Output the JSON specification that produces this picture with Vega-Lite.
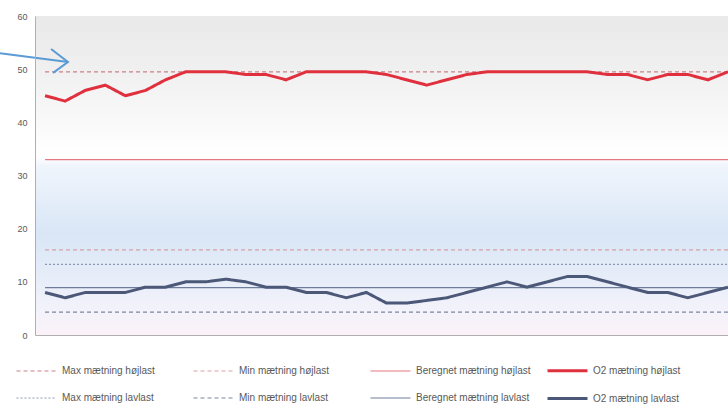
{
  "$schema": "https://vega.github.io/schema/vega-lite/v6.json",
  "width": 693,
  "height": 319,
  "padding": {"left": 35, "top": 16, "right": 0, "bottom": 77},
  "autosize": {"type": "none"},
  "background": "white",
  "config": {
    "view": {"stroke": null},
    "font": "Liberation Sans",
    "axis": {"grid": false, "ticks": false, "domainColor": "#b0b0b0", "labelColor": "#595959", "labelFontSize": 9}
  },
  "datasets": {
    "series_rows": [
      {"series": "Max mætning højlast", "i": 1, "v": 49.5}, {"series": "Max mætning højlast", "i": 35, "v": 49.5},
      {"series": "Min mætning højlast", "i": 1, "v": 16}, {"series": "Min mætning højlast", "i": 35, "v": 16},
      {"series": "Beregnet mætning højlast", "i": 1, "v": 33}, {"series": "Beregnet mætning højlast", "i": 35, "v": 33},
      {"series": "Max mætning lavlast", "i": 1, "v": 13.3}, {"series": "Max mætning lavlast", "i": 35, "v": 13.3},
      {"series": "Min mætning lavlast", "i": 1, "v": 4.3}, {"series": "Min mætning lavlast", "i": 35, "v": 4.3},
      {"series": "Beregnet mætning lavlast", "i": 1, "v": 8.9}, {"series": "Beregnet mætning lavlast", "i": 35, "v": 8.9},
      {"series": "O2 mætning højlast", "i": 1, "v": 45},
      {"series": "O2 mætning højlast", "i": 2, "v": 44},
      {"series": "O2 mætning højlast", "i": 3, "v": 46},
      {"series": "O2 mætning højlast", "i": 4, "v": 47},
      {"series": "O2 mætning højlast", "i": 5, "v": 45},
      {"series": "O2 mætning højlast", "i": 6, "v": 46},
      {"series": "O2 mætning højlast", "i": 7, "v": 48},
      {"series": "O2 mætning højlast", "i": 8, "v": 49.5},
      {"series": "O2 mætning højlast", "i": 9, "v": 49.5},
      {"series": "O2 mætning højlast", "i": 10, "v": 49.5},
      {"series": "O2 mætning højlast", "i": 11, "v": 49},
      {"series": "O2 mætning højlast", "i": 12, "v": 49},
      {"series": "O2 mætning højlast", "i": 13, "v": 48},
      {"series": "O2 mætning højlast", "i": 14, "v": 49.5},
      {"series": "O2 mætning højlast", "i": 15, "v": 49.5},
      {"series": "O2 mætning højlast", "i": 16, "v": 49.5},
      {"series": "O2 mætning højlast", "i": 17, "v": 49.5},
      {"series": "O2 mætning højlast", "i": 18, "v": 49},
      {"series": "O2 mætning højlast", "i": 19, "v": 48},
      {"series": "O2 mætning højlast", "i": 20, "v": 47},
      {"series": "O2 mætning højlast", "i": 21, "v": 48},
      {"series": "O2 mætning højlast", "i": 22, "v": 49},
      {"series": "O2 mætning højlast", "i": 23, "v": 49.5},
      {"series": "O2 mætning højlast", "i": 24, "v": 49.5},
      {"series": "O2 mætning højlast", "i": 25, "v": 49.5},
      {"series": "O2 mætning højlast", "i": 26, "v": 49.5},
      {"series": "O2 mætning højlast", "i": 27, "v": 49.5},
      {"series": "O2 mætning højlast", "i": 28, "v": 49.5},
      {"series": "O2 mætning højlast", "i": 29, "v": 49},
      {"series": "O2 mætning højlast", "i": 30, "v": 49},
      {"series": "O2 mætning højlast", "i": 31, "v": 48},
      {"series": "O2 mætning højlast", "i": 32, "v": 49},
      {"series": "O2 mætning højlast", "i": 33, "v": 49},
      {"series": "O2 mætning højlast", "i": 34, "v": 48},
      {"series": "O2 mætning højlast", "i": 35, "v": 49.5},
      {"series": "O2 mætning lavlast", "i": 1, "v": 8},
      {"series": "O2 mætning lavlast", "i": 2, "v": 7},
      {"series": "O2 mætning lavlast", "i": 3, "v": 8},
      {"series": "O2 mætning lavlast", "i": 4, "v": 8},
      {"series": "O2 mætning lavlast", "i": 5, "v": 8},
      {"series": "O2 mætning lavlast", "i": 6, "v": 9},
      {"series": "O2 mætning lavlast", "i": 7, "v": 9},
      {"series": "O2 mætning lavlast", "i": 8, "v": 10},
      {"series": "O2 mætning lavlast", "i": 9, "v": 10},
      {"series": "O2 mætning lavlast", "i": 10, "v": 10.5},
      {"series": "O2 mætning lavlast", "i": 11, "v": 10},
      {"series": "O2 mætning lavlast", "i": 12, "v": 9},
      {"series": "O2 mætning lavlast", "i": 13, "v": 9},
      {"series": "O2 mætning lavlast", "i": 14, "v": 8},
      {"series": "O2 mætning lavlast", "i": 15, "v": 8},
      {"series": "O2 mætning lavlast", "i": 16, "v": 7},
      {"series": "O2 mætning lavlast", "i": 17, "v": 8},
      {"series": "O2 mætning lavlast", "i": 18, "v": 6},
      {"series": "O2 mætning lavlast", "i": 19, "v": 6},
      {"series": "O2 mætning lavlast", "i": 20, "v": 6.5},
      {"series": "O2 mætning lavlast", "i": 21, "v": 7},
      {"series": "O2 mætning lavlast", "i": 22, "v": 8},
      {"series": "O2 mætning lavlast", "i": 23, "v": 9},
      {"series": "O2 mætning lavlast", "i": 24, "v": 10},
      {"series": "O2 mætning lavlast", "i": 25, "v": 9},
      {"series": "O2 mætning lavlast", "i": 26, "v": 10},
      {"series": "O2 mætning lavlast", "i": 27, "v": 11},
      {"series": "O2 mætning lavlast", "i": 28, "v": 11},
      {"series": "O2 mætning lavlast", "i": 29, "v": 10},
      {"series": "O2 mætning lavlast", "i": 30, "v": 9},
      {"series": "O2 mætning lavlast", "i": 31, "v": 8},
      {"series": "O2 mætning lavlast", "i": 32, "v": 8},
      {"series": "O2 mætning lavlast", "i": 33, "v": 7},
      {"series": "O2 mætning lavlast", "i": 34, "v": 8},
      {"series": "O2 mætning lavlast", "i": 35, "v": 9}
    ],
    "arrow_rows": [
      {"part": "shaft", "k": 1, "ax": -1.24, "ay": 53.0},
      {"part": "shaft", "k": 2, "ax": 2.14, "ay": 51.35},
      {"part": "head", "k": 1, "ax": 1.3, "ay": 53.8},
      {"part": "head", "k": 2, "ax": 2.14, "ay": 51.35},
      {"part": "head", "k": 3, "ax": 1.4, "ay": 49.3}
    ]
  },
  "layer": [
    {
      "data": {"values": [{"band": "plot"}]},
      "mark": {
        "type": "rect",
        "color": {
          "gradient": "linear", "x1": 0, "y1": 0, "x2": 0, "y2": 1,
          "stops": [
            {"offset": 0, "color": "#e9e9e9"},
            {"offset": 0.15, "color": "#efefef"},
            {"offset": 0.35, "color": "#fafafa"},
            {"offset": 0.44, "color": "#ffffff"},
            {"offset": 0.47, "color": "#f0f5fc"},
            {"offset": 0.68, "color": "#d9e6f6"},
            {"offset": 0.8, "color": "#e4ecf8"},
            {"offset": 0.92, "color": "#f3f2fb"},
            {"offset": 1, "color": "#fbf2f8"}
          ]
        }
      },
      "encoding": {
        "x": {"datum": 0.5, "type": "quantitative"},
        "x2": {"datum": 35},
        "y": {"datum": 0, "type": "quantitative"},
        "y2": {"datum": 60}
      }
    },
    {
      "data": {"name": "series_rows"},
      "mark": {"type": "line"},
      "encoding": {
        "x": {"field": "i", "type": "quantitative", "scale": {"domain": [0.5, 35], "nice": false, "zero": false},
              "axis": {"labels": false, "title": null, "ticks": false, "zindex": 1}},
        "y": {"field": "v", "type": "quantitative", "scale": {"domain": [0, 60], "nice": false},
              "axis": {"values": [0, 10, 20, 30, 40, 50, 60], "title": null, "labelPadding": 8, "zindex": 1}},
        "color": {
          "field": "series", "type": "nominal",
          "scale": {
            "domain": ["Max mætning højlast", "Max mætning lavlast", "Min mætning højlast", "Min mætning lavlast",
                       "Beregnet mætning højlast", "Beregnet mætning lavlast", "O2 mætning højlast", "O2 mætning lavlast"],
            "range": ["#c98088", "#8a96b0", "#d9a0a8", "#7a869e", "#e87880", "#6e7c9c", "#e0303e", "#4b5878"]
          },
          "legend": {
            "orient": "none", "legendX": -20, "legendY": 333, "columns": 4, "title": null,
            "symbolType": "stroke", "symbolSize": 1600, "labelFontSize": 10, "labelColor": "#595959",
            "columnPadding": 10, "rowPadding": -5, "labelOffset": 4, "gridAlign": "all"
          }
        },
        "strokeDash": {
          "field": "series", "type": "nominal",
          "scale": {
            "domain": ["Max mætning højlast", "Max mætning lavlast", "Min mætning højlast", "Min mætning lavlast",
                       "Beregnet mætning højlast", "Beregnet mætning lavlast", "O2 mætning højlast", "O2 mætning lavlast"],
            "range": [[4, 3], [2, 2], [4, 3], [4, 3], [1, 0], [1, 0], [1, 0], [1, 0]]
          },
          "legend": null
        },
        "strokeWidth": {
          "field": "series", "type": "nominal",
          "scale": {
            "type": "ordinal",
            "domain": ["Max mætning højlast", "Max mætning lavlast", "Min mætning højlast", "Min mætning lavlast",
                       "Beregnet mætning højlast", "Beregnet mætning lavlast", "O2 mætning højlast", "O2 mætning lavlast"],
            "range": [1.2, 1.2, 1.2, 1.2, 1.2, 1.2, 3, 3]
          },
          "legend": null
        }
      }
    },
    {
      "data": {"name": "arrow_rows"},
      "mark": {"type": "line", "color": "#5b9bd5", "strokeWidth": 2},
      "encoding": {
        "x": {"field": "ax", "type": "quantitative"},
        "y": {"field": "ay", "type": "quantitative"},
        "detail": {"field": "part"},
        "order": {"field": "k", "type": "quantitative"}
      }
    }
  ]
}
